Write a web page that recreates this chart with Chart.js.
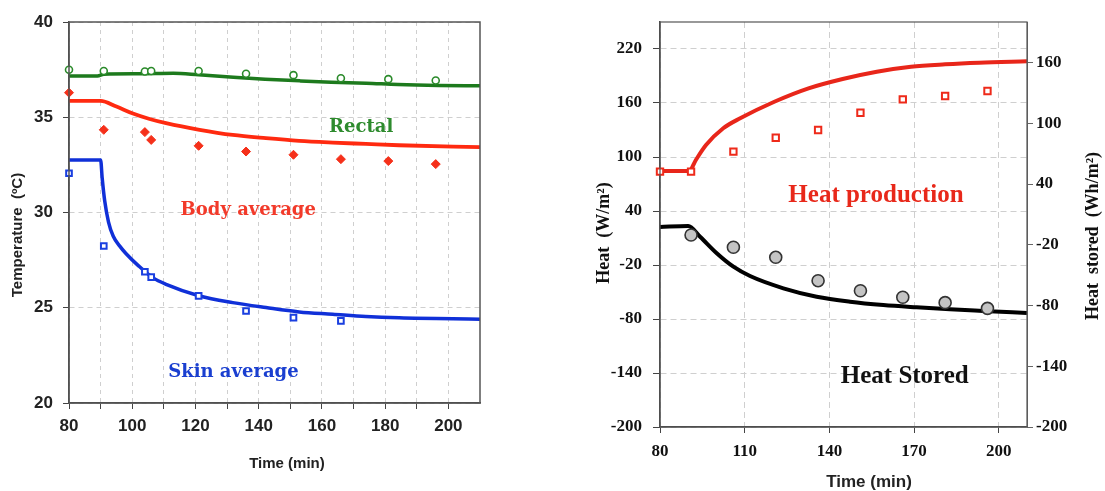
<!DOCTYPE html>
<html><head><meta charset="utf-8">
<script src="https://cdn.jsdelivr.net/npm/chart.js@4.4.1/dist/chart.umd.min.js"></script>
<style>
html,body{margin:0;padding:0;background:#fff;width:1105px;height:491px;overflow:hidden;}
canvas{position:absolute;top:0;}
#c1{left:0;} #c2{left:560px;}
</style></head><body>
<canvas id="c1" width="520" height="491"></canvas>
<canvas id="c2" width="545" height="491"></canvas>
<script>
// ---------- Left chart: temperatures ----------
const leftTimeTicks = [80, 90, 100, 110, 120, 130, 140, 150, 160, 170, 180, 190, 200];
const leftTimeTickLabels = ['80', '', '100', '', '120', '', '140', '', '160', '', '180', '', '200'];
const tempTicks = [20, 25, 30, 35, 40];

const rectalModelTime = [80, 89, 91, 102, 113, 121, 132, 142, 153, 163, 174, 184, 197, 210];
const rectalModel = [37.17, 37.17, 37.26, 37.28, 37.31, 37.23, 37.10, 37.00, 36.91, 36.84, 36.79, 36.72, 36.67, 36.65];
const bodyModelTime = [80, 90, 95, 100, 105.5, 110.7, 121.3, 131.8, 142.3, 152.8, 163.4, 173.9, 184.4, 210];
const bodyModel = [35.86, 35.86, 35.56, 35.21, 34.91, 34.69, 34.34, 34.07, 33.90, 33.76, 33.67, 33.60, 33.53, 33.43];
const skinModelTime = [80, 90, 90.5, 91.3, 92.5, 94, 96, 98, 102, 106.5, 110.7, 121.3, 131.8, 142.3, 152.8, 163.4, 173.9, 184.4, 210];
const skinModel = [32.76, 32.76, 31.8, 30.6, 29.5, 28.75, 28.25, 27.85, 27.2, 26.58, 26.23, 25.62, 25.27, 25.01, 24.78, 24.66, 24.54, 24.47, 24.40];

const obsTime = [80, 91, 104, 106, 121, 136, 151, 166, 181, 196];
const rectalObs = [37.49, 37.43, 37.40, 37.43, 37.43, 37.28, 37.21, 37.05, 37.00, 36.93];
const bodyObs = [36.29, 34.34, 34.22, 33.81, 33.50, 33.20, 33.03, 32.80, 32.70, 32.54];
const skinObsTime = [80, 91, 104, 106, 121, 136, 151, 166];
const skinObs = [32.06, 28.24, 26.89, 26.61, 25.62, 24.83, 24.48, 24.31];

// ---------- Right chart: heat ----------
const rightTimeTicks = [80, 110, 140, 170, 200];
const heatTicks = [-200, -140, -80, -20, 40, 100, 160, 220];
const storedTicks = [-200, -140, -80, -20, 40, 100, 160];

const prodModelTime = [80, 90.3, 92.7, 96.3, 102.4, 108.4, 120.5, 132.6, 144.7, 156.8, 168.9, 181, 193.1, 210];
const prodModel = [84.5, 84.5, 96.7, 113.3, 131.9, 143, 161.4, 176.3, 186.7, 194.8, 200.3, 203, 204.8, 206.3];
const storedModelTime = [80, 90, 94.2, 100.1, 106, 111.9, 123.7, 135.5, 147.3, 159.1, 170.9, 182.7, 194.5, 210];
const storedModel = [-2.5, -1.5, -12.1, -28.4, -41.7, -50.9, -63, -71.3, -76.2, -79.5, -81.8, -83.8, -85.4, -87.4];
const prodObsTime = [80, 91, 106, 121, 136, 151, 166, 181, 196];
const prodObs = [83.7, 83.7, 105.9, 121.4, 130, 149.2, 164.1, 167.8, 173.3];
const storedObsTime = [91, 106, 121, 136, 151, 166, 181, 196];
const storedObs = [-10.4, -22.5, -32.4, -55.5, -65.4, -71.9, -77.2, -82.8];

const pts = (xs, ys) => xs.map((x, i) => ({x: x, y: ys[i]}));
const setTicks = arr => (s => { s.ticks = arr.map(v => ({value: v})); });

function makeDecor(cfg) {
  return {
    id: 'decor' + cfg.name,
    afterDraw(chart) {
      const ctx = chart.ctx, a = chart.chartArea;
      ctx.save();
      ctx.strokeStyle = cfg.boxColor; ctx.lineWidth = cfg.boxWidth;
      ctx.strokeRect(a.left, a.top, a.right - a.left, a.bottom - a.top);
      const xs = chart.scales.x;
      cfg.labels.forEach(l => {
        const ys = chart.scales[l.axis];
        ctx.font = l.font; ctx.fillStyle = l.color;
        ctx.textAlign = 'center'; ctx.textBaseline = 'alphabetic';
        ctx.fillText(l.text, xs.getPixelForValue(l.x), ys.getPixelForValue(l.y));
      });
      cfg.titles.forEach(t => {
        ctx.save(); ctx.translate(t.px, t.py); ctx.rotate(t.rot);
        ctx.font = t.font; ctx.fillStyle = t.color;
        ctx.textAlign = 'center'; ctx.textBaseline = 'middle';
        ctx.fillText(t.text, 0, 0); ctx.restore();
      });
      ctx.restore();
    }
  };
}

const gridColor = '#cfcfcf';
const sansTick = {family: '"Liberation Sans", Arial, sans-serif', size: 17, weight: 'bold'};
const serifTick = {family: '"Liberation Serif", "Times New Roman", serif', size: 17, weight: 'bold'};

// Left chart
new Chart(document.getElementById('c1'), {
  type: 'line',
  data: {
    datasets: [
      {data: pts(obsTime, rectalObs), showLine: false, clip: false, pointStyle: 'circle', pointRadius: 3.5, borderWidth: 1.6, borderColor: '#2a8a2a', backgroundColor: '#ffffff'},
      {data: pts(obsTime, bodyObs), showLine: false, clip: false, pointStyle: 'rectRot', pointRadius: 4.5, borderWidth: 1, borderColor: '#f5301a', backgroundColor: '#f5301a'},
      {data: pts(skinObsTime, skinObs), showLine: false, clip: false, pointStyle: 'rect', pointRadius: 4, borderWidth: 2, borderColor: '#1a3fe0', backgroundColor: '#ffffff'},
      {data: pts(rectalModelTime, rectalModel), borderColor: '#1d7a1d', borderWidth: 3.5, pointRadius: 0, cubicInterpolationMode: 'monotone'},
      {data: pts(bodyModelTime, bodyModel), borderColor: '#ff2a10', borderWidth: 3.8, pointRadius: 0, cubicInterpolationMode: 'monotone'},
      {data: pts(skinModelTime, skinModel), borderColor: '#1030d8', borderWidth: 3.5, pointRadius: 0, cubicInterpolationMode: 'monotone'}
    ]
  },
  options: {
    responsive: false, animation: false, devicePixelRatio: 1,
    layout: {padding: {left: 0, right: 40, top: 22, bottom: 0}},
    plugins: {legend: {display: false}, tooltip: {enabled: false}},
    scales: {
      x: {
        type: 'linear', min: 80, max: 210,
        afterBuildTicks: setTicks(leftTimeTicks),
        afterFit: s => { s.height = 88; },
        ticks: {autoSkip: false, maxRotation: 0, padding: 7, color: '#222', font: sansTick,
                callback: (v, i) => leftTimeTickLabels[i]},
        grid: {color: gridColor, lineWidth: 1, tickLength: 6, tickColor: '#444'},
        border: {display: true, color: '#444', width: 1.5, dash: [4, 4]}
      },
      y: {
        type: 'linear', min: 20, max: 40,
        afterBuildTicks: setTicks(tempTicks),
        afterFit: s => { s.width = 69; },
        ticks: {padding: 10, color: '#222', font: sansTick},
        grid: {color: gridColor, lineWidth: 1, tickLength: 6, tickColor: '#444'},
        border: {display: true, color: '#444', width: 1.5, dash: [5, 4]}
      }
    }
  },
  plugins: [makeDecor({
    name: 'L', boxColor: '#555', boxWidth: 1.5,
    labels: [
      {text: 'Rectal', x: 172.4, y: 34.25, axis: 'y', color: '#2e8b2e', font: 'bold 18px "DejaVu Serif", serif'},
      {text: 'Body average', x: 136.7, y: 29.88, axis: 'y', color: '#f23a2a', font: 'bold 18px "DejaVu Serif", serif'},
      {text: 'Skin average', x: 132, y: 21.37, axis: 'y', color: '#1a3fd0', font: 'bold 18px "DejaVu Serif", serif'}
    ],
    titles: [
      {text: 'Temperature  (ºC)', px: 18, py: 235, rot: -Math.PI / 2, color: '#222', font: 'bold 15px "Liberation Sans", Arial, sans-serif'},
      {text: 'Time (min)', px: 287, py: 464, rot: 0, color: '#222', font: 'bold 15px "Liberation Sans", Arial, sans-serif'}
    ]
  })]
});

// Right chart
new Chart(document.getElementById('c2'), {
  type: 'line',
  data: {
    datasets: [
      {data: pts(storedObsTime, storedObs), yAxisID: 'y2', showLine: false, clip: false, pointStyle: 'circle', pointRadius: 6, borderWidth: 1.6, borderColor: '#333', backgroundColor: '#c4c4c4'},
      {data: pts(prodObsTime, prodObs), yAxisID: 'y', showLine: false, clip: false, pointStyle: 'rect', pointRadius: 4.5, borderWidth: 2, borderColor: '#ee2a1a', backgroundColor: '#ffffff'},
      {data: pts(prodModelTime, prodModel), yAxisID: 'y', borderColor: '#e8261a', borderWidth: 4, pointRadius: 0, cubicInterpolationMode: 'monotone'},
      {data: pts(storedModelTime, storedModel), yAxisID: 'y2', borderColor: '#000000', borderWidth: 4, pointRadius: 0, cubicInterpolationMode: 'monotone'}
    ]
  },
  options: {
    responsive: false, animation: false, devicePixelRatio: 1,
    layout: {padding: {left: 0, right: 0, top: 22, bottom: 0}},
    plugins: {legend: {display: false}, tooltip: {enabled: false}},
    scales: {
      x: {
        type: 'linear', min: 80, max: 210,
        afterBuildTicks: setTicks(rightTimeTicks),
        afterFit: s => { s.height = 64; },
        ticks: {autoSkip: false, maxRotation: 0, padding: 8, color: '#111', font: serifTick},
        grid: {color: gridColor, lineWidth: 1, tickLength: 6, tickColor: '#444'},
        border: {display: true, color: '#444', width: 1.5, dash: [6, 4]}
      },
      y: {
        type: 'linear', position: 'left', min: -200, max: 250,
        afterBuildTicks: setTicks(heatTicks),
        afterFit: s => { s.width = 100; },
        ticks: {padding: 11, color: '#111', font: serifTick},
        grid: {color: gridColor, lineWidth: 1, tickLength: 7, tickColor: '#444'},
        border: {display: true, color: '#444', width: 1.5, dash: [6, 4]}
      },
      y2: {
        type: 'linear', position: 'right', min: -200, max: 200,
        afterBuildTicks: setTicks(storedTicks),
        afterFit: s => { s.width = 78; },
        ticks: {padding: 3, color: '#111', font: serifTick},
        grid: {drawOnChartArea: false, tickLength: 6, tickColor: '#666'},
        border: {display: true, color: '#666', width: 1}
      }
    }
  },
  plugins: [makeDecor({
    name: 'R', boxColor: '#555', boxWidth: 1.2,
    labels: [
      {text: 'Heat production', x: 156.5, y: 50.3, axis: 'y', color: '#e8281a', font: 'bold 25px "Liberation Serif", serif'},
      {text: 'Heat Stored', x: 166.7, y: -150.8, axis: 'y', color: '#111', font: 'bold 25px "Liberation Serif", serif'}
    ],
    titles: [
      {text: 'Heat  (W/m²)', px: 44, py: 233, rot: -Math.PI / 2, color: '#111', font: 'bold 18px "Liberation Serif", serif'},
      {text: 'Heat  stored  (Wh/m²)', px: 533, py: 236, rot: -Math.PI / 2, color: '#111', font: 'bold 18px "Liberation Serif", serif'},
      {text: 'Time (min)', px: 309, py: 482, rot: 0, color: '#222', font: 'bold 17px "Liberation Sans", Arial, sans-serif'}
    ]
  })]
});
</script>
</body></html>
